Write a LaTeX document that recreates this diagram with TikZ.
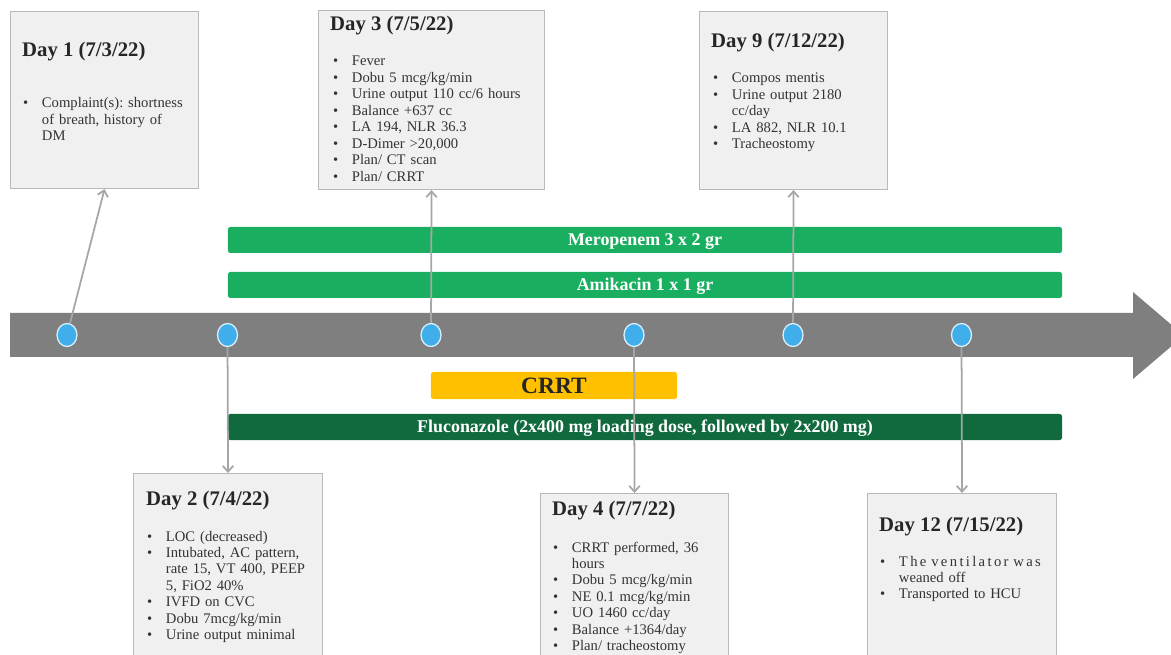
\documentclass[tikz,border=0pt]{standalone}
\usepackage{fontspec}
\setmainfont{Liberation Serif}
\usepackage{tikz}
\usetikzlibrary{positioning, arrows.meta, shapes.geometric}

\definecolor{barGray}{RGB}{127,127,127}
\definecolor{linkGray}{RGB}{166,166,166}
\definecolor{dotBlue}{RGB}{64,174,234}
\definecolor{medGreen}{RGB}{26,175,96}
\definecolor{darkGreen}{RGB}{16,106,62}
\definecolor{crrtGold}{RGB}{255,192,0}
\definecolor{boxFill}{RGB}{240,240,240}
\definecolor{boxLine}{RGB}{185,185,185}

\frenchspacing
\newcommand{\itm}[1]{\hangindent=16pt\hangafter=1\noindent\makebox[16pt][l]{\textbullet}#1\par}

\begin{document}
\begin{tikzpicture}[x=0.03cm, y=-0.03cm,
  daybox/.style={draw=boxLine, fill=boxFill, line width=0.9pt, anchor=north west, inner sep=0pt},
  daytitle/.style={anchor=base west, inner sep=0pt, font=\fontsize{17.7}{21}\selectfont\bfseries, text=black!85},
  daylist/.style={anchor=base west, inner sep=0pt, align=left, font=\fontsize{12.5}{14.03}\selectfont, text=black!80},
  drugbar/.style={rounded corners=2pt, inner sep=0pt, minimum width=25.02cm, minimum height=0.78cm,
    text height=10pt, text depth=0pt, text=white, font=\fontsize{15.3}{18}\selectfont\bfseries},
  dot/.style={ellipse, fill=dotBlue, draw=white!80!dotBlue, line width=1.1pt, minimum width=0.6cm, minimum height=0.69cm, inner sep=0pt},
  link/.style={draw=linkGray, line width=1.5pt, -{Straight Barb[length=5pt,width=9pt]}}]
\clip (0,0) rectangle (1171,655);

% Time axis
\fill[barGray] (10,313) -- (1133,313) -- (1133,292) -- (1184,335.5) -- (1133,379) -- (1133,357) -- (10,357) -- cycle;

% Therapy bars
\node[drugbar, fill=medGreen] (mero) at (645,240) {Meropenem 3 x 2 gr};
\node[drugbar, fill=medGreen] (amik) at (645,285) {Amikacin 1 x 1 gr};
\node[drugbar, fill=darkGreen] (fluc) at (645,427) {Fluconazole (2x400 mg loading dose, followed by 2x200 mg)};
\node[fill=crrtGold, rounded corners=2pt, inner sep=0pt, minimum width=7.38cm, minimum height=0.81cm,
  text height=13pt, text depth=0pt, font=\fontsize{20}{24}\selectfont\bfseries, text=black!85] (crrt) at (554,385.5) {CRRT};

% Day 1
\node[daybox, minimum width=5.64cm, minimum height=5.31cm] (box1) at (10,11) {};
\node[daytitle] (title1) at (22,57) {Day 1 (7/3/22)};
\node[daylist, text width=4.92cm] (list1) at (23,108) {%
  \itm{Complaint(s): shortness of breath, history of DM}};

% Day 2
\node[daybox, minimum width=5.67cm, minimum height=6.21cm] (box2) at (133,473) {};
\node[daytitle] (title2) at (146,505) {Day 2 (7/4/22)};
\node[daylist, text width=4.92cm] (list2) at (147,541) {%
  \itm{LOC (decreased)}
  \itm{Intubated, AC pattern, rate 15, VT 400, PEEP 5, FiO2 40\%}
  \itm{IVFD on CVC}
  \itm{Dobu 7mcg/kg/min}
  \itm{Urine output minimal}};

% Day 3
\node[daybox, minimum width=6.78cm, minimum height=5.37cm] (box3) at (318,10) {};
\node[daytitle] (title3) at (330,31) {Day 3 (7/5/22)};
\node[daylist, text width=6.3cm] (list3) at (333,66) {%
  \itm{Fever}
  \itm{Dobu 5 mcg/kg/min}
  \itm{Urine output 110 cc/6 hours}
  \itm{Balance +637 cc}
  \itm{LA 194, NLR 36.3}
  \itm{D-Dimer >20,000}
  \itm{Plan/ CT scan}
  \itm{Plan/ CRRT}};

% Day 4
\node[daybox, minimum width=5.64cm, minimum height=5.61cm] (box4) at (540,493) {};
\node[daytitle] (title4) at (552,515) {Day 4 (7/7/22)};
\node[daylist, text width=4.92cm] (list4) at (553,552) {%
  \itm{CRRT performed, 36 hours}
  \itm{Dobu 5 mcg/kg/min}
  \itm{NE 0.1 mcg/kg/min}
  \itm{UO 1460 cc/day}
  \itm{Balance +1364/day}
  \itm{Plan/ tracheostomy}};

% Day 9
\node[daybox, minimum width=5.64cm, minimum height=5.34cm] (box5) at (699,11) {};
\node[daytitle] (title5) at (711,48) {Day 9 (7/12/22)};
\node[daylist, text width=4.77cm] (list5) at (713,83) {%
  \itm{Compos mentis}
  \itm{Urine output 2180 cc/day}
  \itm{LA 882, NLR 10.1}
  \itm{Tracheostomy}};

% Day 12
\node[daybox, minimum width=5.67cm, minimum height=5.61cm] (box6) at (867,493) {};
\node[daytitle] (title6) at (879,531) {Day 12 (7/15/22)};
\node[daylist, text width=5.2cm] (list6) at (880,566) {%
  \itm{{\addfontfeature{LetterSpace=16}The ventilator was}\newline weaned off}
  \itm{Transported to HCU}};

% Time points
\foreach \i/\x in {1/67,2/227.5,3/431,4/634,5/793,6/961.5}{
  \node[dot] (t\i) at (\x,335) {};
}

% Connectors
\foreach \i/\side in {1/south,2/north,3/south,4/north,5/south,6/north}{
  \draw[link] (t\i) -- (box\i.\side);
}
\end{tikzpicture}
\end{document}
